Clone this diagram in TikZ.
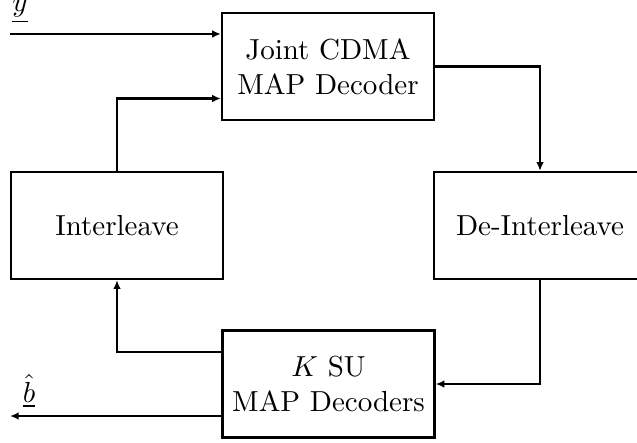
\documentclass[tikz,border=0pt]{standalone}
\usetikzlibrary{arrows.meta,calc}
\begin{document}
\begin{tikzpicture}[x=0.345pt,y=-0.345pt,
  blk/.style={draw,line width=0.8pt,minimum width=73.1pt,minimum height=36.9pt,inner sep=0pt,align=center,font=\normalsize},
  arr/.style={line width=0.8pt,-{Latex[length=3pt,width=2.6pt]}},
  lbl/.style={inner sep=0pt}]
\clip (0,0) rectangle (637,442);
\node[blk] (joint) at (328,66.5) {Joint CDMA\\MAP Decoder};
\node[blk] (deint) at (540,225.5) {De-Interleave};
\node[blk] (inter) at (117,225.5) {Interleave};
\node[blk] (ksu) at (328.5,384) {$K$ SU\\MAP Decoders};
\coordinate (yin) at (10,34);
\coordinate (bout) at (10,416);
\node[lbl] (ylab) at (20,11) {$\underline{y}$};
\node[lbl] (blab) at (29,391) {$\underline{\hat{b}}$};
\draw[arr] (yin) -- (yin -| joint.west);
\draw[arr] (inter.north) |- ($(joint.west)+(0,32)$);
\draw[arr] (joint.east) -| (deint.north);
\draw[arr] (deint.south) |- (ksu.east);
\draw[arr] ($(ksu.west)+(0,-32)$) -| (inter.south);
\draw[arr] ($(ksu.west)+(0,32)$) -- (bout);
\end{tikzpicture}
\end{document}
